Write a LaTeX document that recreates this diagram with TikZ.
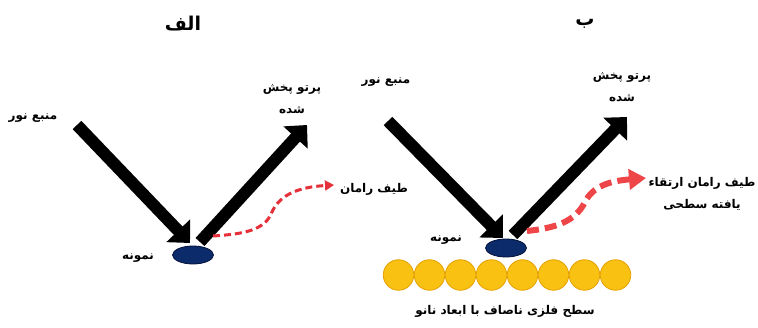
\documentclass[tikz,border=0pt]{standalone}
\usepackage{fontspec}
\usetikzlibrary{arrows.meta,shapes.geometric}
\TeXXeTstate=1
\newfontfamily\arabicfont[Script=Arabic]{DejaVu Sans}
\definecolor{navy}{HTML}{0B2B6B}
\definecolor{navyedge}{HTML}{03123A}
\definecolor{ramanA}{HTML}{E5303A}
\definecolor{ramanB}{HTML}{EE4548}
\definecolor{gold}{HTML}{F9C112}
\definecolor{goldedge}{HTML}{E6A000}
\begin{document}
\begin{tikzpicture}[x=1pt,y=-1pt,
  fa/.style={font=\arabicfont\bfseries\fontsize{12}{22}\selectfont, inner sep=1pt, align=center, text=black},
  title/.style={font=\arabicfont\bfseries\fontsize{19}{21}\selectfont, inner sep=1pt},
  beam/.style={line width=12pt, -{Triangle[length=17pt,width=32pt]}},
  sample/.style={ellipse, fill=navy, draw=navyedge, line width=0.8pt, minimum width=41pt, minimum height=18pt, inner sep=0pt},
  ramA/.style={draw=ramanA, line width=3pt, dash pattern=on 7pt off 4pt, -{Triangle[length=9pt,width=10pt]}},
  ramB/.style={draw=ramanB, line width=6pt, dash pattern=on 12pt off 6pt, -{Triangle[length=17pt,width=20pt]}},
  bead/.style={circle, fill=gold, draw=goldedge, line width=0.8pt, minimum size=30.5pt, inner sep=0pt}
]
\useasboundingbox (0,0) rectangle (758,328);

% ---------- Panel A ----------
\node[title] (tA) at (183,24) {\beginR الف\endR};
\node[fa] (srcAl) at (33,118) {\beginR منبع نور\endR};
\node[fa] (scAl) at (292,99) {\beginR پرتو پخش\endR\\\beginR شده\endR};
\node[fa] (ramAl) at (374,189) {\beginR طیف رامان\endR};
\node[fa] (smpAl) at (138,258) {\beginR نمونه\endR};
\node[sample] (sA) at (193,255) {};

\coordinate (inA0) at (77,125);
\coordinate (inA1) at (190,243);
\coordinate (outA0) at (200,242);
\coordinate (outA1) at (307,125);
\draw[beam] (inA0) -- (inA1);
\draw[beam] (outA0) -- (outA1);

\coordinate (rA0) at (213,236);
\coordinate (rAm) at (272,212);
\coordinate (rA1) at (334,185);
\draw[ramA] (rA0) .. controls (245,234) and (265,230) .. (rAm)
            .. controls (280,194) and (300,187) .. (rA1);

% ---------- Panel B ----------
\node[title] (tB) at (585,24) {\beginR ب\endR};
\node[fa] (srcBl) at (386,82) {\beginR منبع نور\endR};
\node[fa] (scBl) at (622,87) {\beginR پرتو پخش\endR\\\beginR شده\endR};
\node[fa] (ramBl) at (702,194) {\beginR طیف رامان ارتقاء\endR\\\beginR یافته سطحی\endR};
\node[fa] (smpBl) at (446,240) {\beginR نمونه\endR};
\node[fa] (surfl) at (505,311) {\beginR سطح فلزی ناصاف با ابعاد نانو\endR};

\foreach \i in {0,...,7} {
  \node[bead] (b\i) at ({398.5+31*\i},275) {};
}
\node[sample] (sB) at (506,248) {};

\coordinate (inB0) at (388,121);
\coordinate (inB1) at (503,238);
\coordinate (outB0) at (513,235);
\coordinate (outB1) at (627,117);
\draw[beam] (inB0) -- (inB1);
\draw[beam] (outB0) -- (outB1);

\coordinate (rB0) at (527,231);
\coordinate (rBm) at (585,202);
\coordinate (rB1) at (646,178);
\draw[ramB] (rB0) .. controls (555,228) and (575,222) .. (rBm)
            .. controls (593,186) and (610,181) .. (rB1);
\end{tikzpicture}
\end{document}
